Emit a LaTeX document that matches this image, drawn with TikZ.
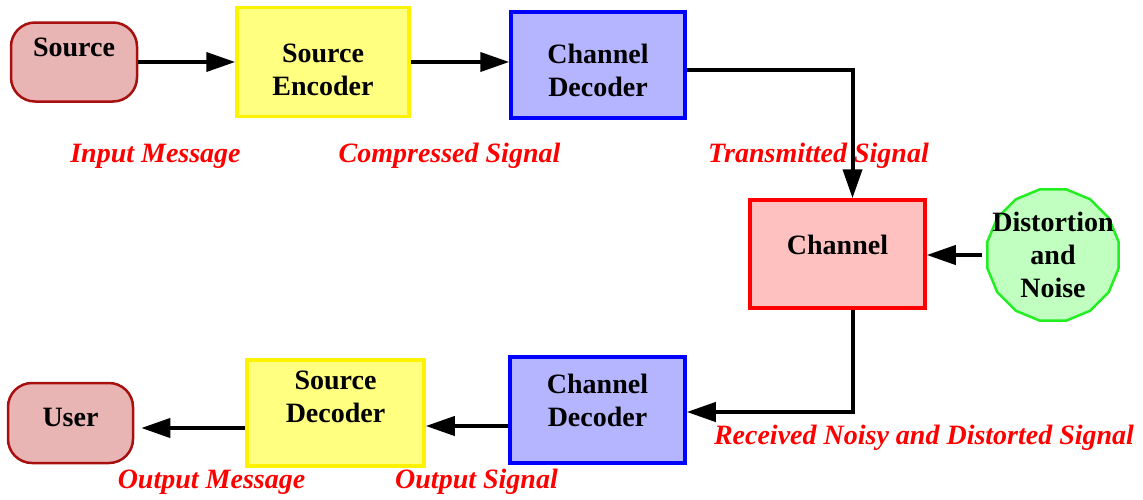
\documentclass[tikz,border=0pt]{standalone}
\usepackage{fontspec}
\setmainfont{Liberation Serif}
\usetikzlibrary{arrows.meta,shapes.geometric}
\definecolor{termfill}{HTML}{E8B4B4}
\definecolor{termline}{HTML}{A81010}
\definecolor{encfill}{HTML}{FFFF80}
\definecolor{decfill}{HTML}{B4B4FF}
\definecolor{chanfill}{HTML}{FFC0C0}
\definecolor{noisefill}{HTML}{C0FFC0}
\definecolor{noiseline}{HTML}{22EE22}
\begin{document}
\begin{tikzpicture}[x=1pt,y=-1pt,
    every node/.style={font=\fontsize{28}{33}\selectfont\bfseries},
    term/.style={rectangle, rounded corners=24pt, draw=termline, fill=termfill, line width=2.5pt, inner sep=0pt},
    blk/.style={rectangle, line width=3.5pt, inner sep=0pt},
    srcblk/.style={blk, draw=yellow, fill=encfill},
    chanblk/.style={blk, draw=blue, fill=decfill},
    sig/.style={font=\fontsize{28}{33}\selectfont\bfseries\itshape, text=red},
    arr/.style={line width=4pt, -{Triangle[length=29pt,width=19pt]}}]
    \useasboundingbox (0,0) rectangle (1143,499);

    \node[term, minimum width=126pt, minimum height=79pt,
      label={[name=srctxt, yshift=15pt]center:Source}] (src) at (74,62) {};
    \node[srcblk, minimum width=172pt, minimum height=109pt,
      label={[name=senctxt, align=center, yshift=-8pt]center:Source\\Encoder}] (senc) at (323,62) {};
    \node[chanblk, minimum width=174pt, minimum height=106pt,
      label={[name=cenctxt, align=center, yshift=-5pt]center:Channel\\Decoder}] (cenc) at (598,65) {};
    \node[blk, draw=red, fill=chanfill, minimum width=175pt, minimum height=108pt,
      label={[name=chantxt, yshift=9pt]center:Channel}] (chan) at (837.5,254) {};
    \node[regular polygon, regular polygon sides=16, draw=noiseline, fill=noisefill, line width=2.5pt,
      minimum size=134pt, inner sep=0pt,
      label={[name=noisetxt, align=center]center:Distortion\\and\\Noise}] (noise) at (1053,255) {};
    \node[chanblk, minimum width=175pt, minimum height=106pt,
      label={[name=cdectxt, align=center, yshift=10pt]center:Channel\\Decoder}] (cdec) at (597.5,410) {};
    \node[srcblk, minimum width=177pt, minimum height=106pt,
      label={[name=sdectxt, align=center, yshift=16pt]center:Source\\Decoder}] (sdec) at (335.5,413) {};
    \node[term, minimum width=125pt, minimum height=80pt,
      label={[name=usertxt, yshift=6pt]center:User}] (user) at (70.5,423) {};

    \node[sig] (inmsg) at (155.5,156) {Input Message};
    \node[sig] (cmpsig) at (449.5,156) {Compressed Signal};
    \node[sig] (txsig) at (818.5,156) {Transmitted Signal};
    \node[sig] (rxsig) at (924,438) {Received Noisy and Distorted Signal};
    \node[sig] (outmsg) at (211.5,482) {Output Message};
    \node[sig] (outsig) at (476.5,482) {Output Signal};

    \draw[arr] (src.east) -- (senc.west |- src.east);
    \draw[arr] (senc.east) -- (cenc.west |- senc.east);
    \draw[arr] ([yshift=-5pt]cenc.east) -| ([xshift=15pt]chan.north);
    \draw[arr] ([xshift=-4pt]noise.west) -- (chan.east |- noise.west);
    \draw[arr] ([xshift=15pt]chan.south) |- ([yshift=-2pt]cdec.east);
    \draw[arr] ([yshift=-16pt]cdec.west) -- ([yshift=-16pt]cdec.west -| sdec.east);
    \draw[arr] ([yshift=-15pt]sdec.west) -- ([yshift=-15pt,xshift=7pt]sdec.west -| user.east);
  \end{tikzpicture}
\end{document}
